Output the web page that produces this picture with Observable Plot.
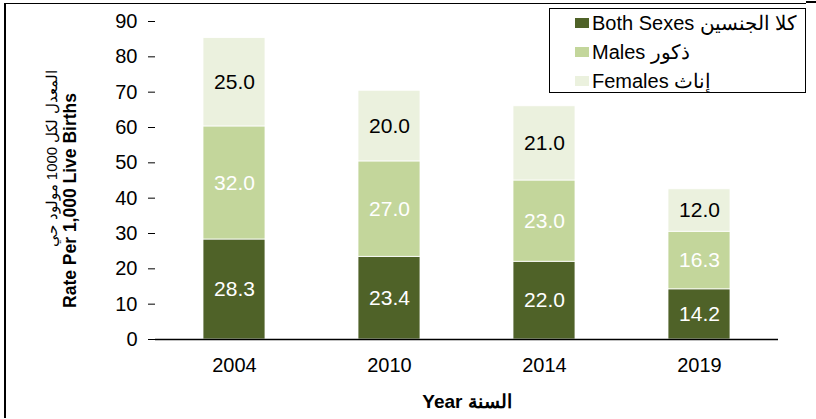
<!DOCTYPE html>
<html>
<head>
<meta charset="utf-8">
<script src="https://cdn.jsdelivr.net/npm/d3@7"></script>
<script src="https://cdn.jsdelivr.net/npm/@observablehq/plot@0.6"></script>
<style>
  body { margin: 0; background: #fff; font-family: "Liberation Sans", Arial, sans-serif; }
  #wrap { position: relative; width: 816px; height: 419px; overflow: hidden; }
  #frameL { position: absolute; left: 4px; top: 3px; width: 2px; height: 415px; background: #000; }
  #frameT { position: absolute; left: 4px; top: 3px; width: 802px; height: 1px; background: #000; }
  #frameT2 { position: absolute; left: 806px; top: 1px; width: 10px; height: 2px; background: #000; }
  #legend { position: absolute; left: 549px; top: 8px; width: 257px; height: 85px; border: 1px solid #000; background: #fff; box-sizing: border-box; }
  .row { position: absolute; left: 25px; height: 22px; display: flex; align-items: center; font-size: 20px; color: #000; white-space: nowrap; }
  .sw { width: 14px; height: 10px; margin-right: 3px; }
</style>
</head>
<body>
<div id="wrap">
  <div id="chart"></div>
  <div id="frameL"></div>
  <div id="frameT"></div>
  <div id="frameT2"></div>
  <div id="legend"></div>
</div>
<script>
const years = ["2004", "2010", "2014", "2019"];
const seriesNames = ["Both Sexes كلا الجنسين", "Males ذكور", "Females إناث"];
const bothSexes = [28.3, 23.4, 22.0, 14.2];
const males = [32.0, 27.0, 23.0, 16.3];
const females = [25.0, 20.0, 21.0, 12.0];
const colors = ["#4f6228", "#c3d69b", "#ebf1de"];
const labelColors = ["#ffffff", "#ffffff", "#000000"];
const yTicks = [0, 10, 20, 30, 40, 50, 60, 70, 80, 90];

const seriesValues = [bothSexes, males, females];
const data = [];
seriesNames.forEach((s, si) => {
  years.forEach((y, yi) => {
    data.push({year: y, series: s, value: seriesValues[si][yi], si});
  });
});

const stackOpts = {x: "year", y: "value", z: "series", order: seriesNames};

const chart = Plot.plot({
  width: 816,
  height: 419,
  marginLeft: 155,
  marginRight: 38,
  marginTop: 21,
  marginBottom: 80,
  style: {fontFamily: "'Liberation Sans', Arial, sans-serif", background: "transparent"},
  x: {domain: years, paddingInner: 0.6, paddingOuter: 0.3, label: null},
  y: {domain: [0, 90], label: null},
  color: {domain: seriesNames, range: colors},
  marks: [
    Plot.barY(data, Plot.stackY({...stackOpts, fill: "series", stroke: "#ffffff", strokeWidth: 0.8})),
    Plot.text(data, Plot.stackY({...stackOpts, text: d => d.value.toFixed(1), fill: d => labelColors[d.si], fontSize: 21})),
    Plot.axisY({ticks: yTicks, tickSize: 7, tickPadding: 11, fontSize: 20, color: "#000", label: null}),
    Plot.ruleX([0], {frameAnchor: "left", stroke: "#000", strokeWidth: 1.5}),
    Plot.axisX({tickSize: 0, tickPadding: 18, fontSize: 20, color: "#000", label: null}),
    Plot.ruleY([0], {stroke: "#000", strokeWidth: 1.5}),
    Plot.text(["Year السنة"], {frameAnchor: "bottom", dy: 68, fontSize: 19, fontWeight: "bold", fill: "#000"}),
    Plot.text(["Rate Per 1,000 Live Births"], {frameAnchor: "left", textAnchor: "middle", dx: -85, dy: 20, rotate: -90, fontSize: 17.5, fontWeight: "bold", fill: "#000"}),
    Plot.text(["المعدل لكل 1000 مولود حي"], {frameAnchor: "left", textAnchor: "middle", dx: -103, dy: -22, rotate: -90, fontSize: 15, fill: "#000"})
  ]
});
document.getElementById("chart").appendChild(chart);

const legend = document.getElementById("legend");
const rowTops = [3, 32, 61];
seriesNames.forEach((s, i) => {
  const r = document.createElement("div");
  r.className = "row";
  r.style.top = rowTops[i] + "px";
  const sw = document.createElement("div");
  sw.className = "sw";
  sw.style.background = colors[i];
  r.appendChild(sw);
  const t = document.createElement("span");
  t.textContent = s;
  r.appendChild(t);
  legend.appendChild(r);
});
</script>
</body>
</html>
